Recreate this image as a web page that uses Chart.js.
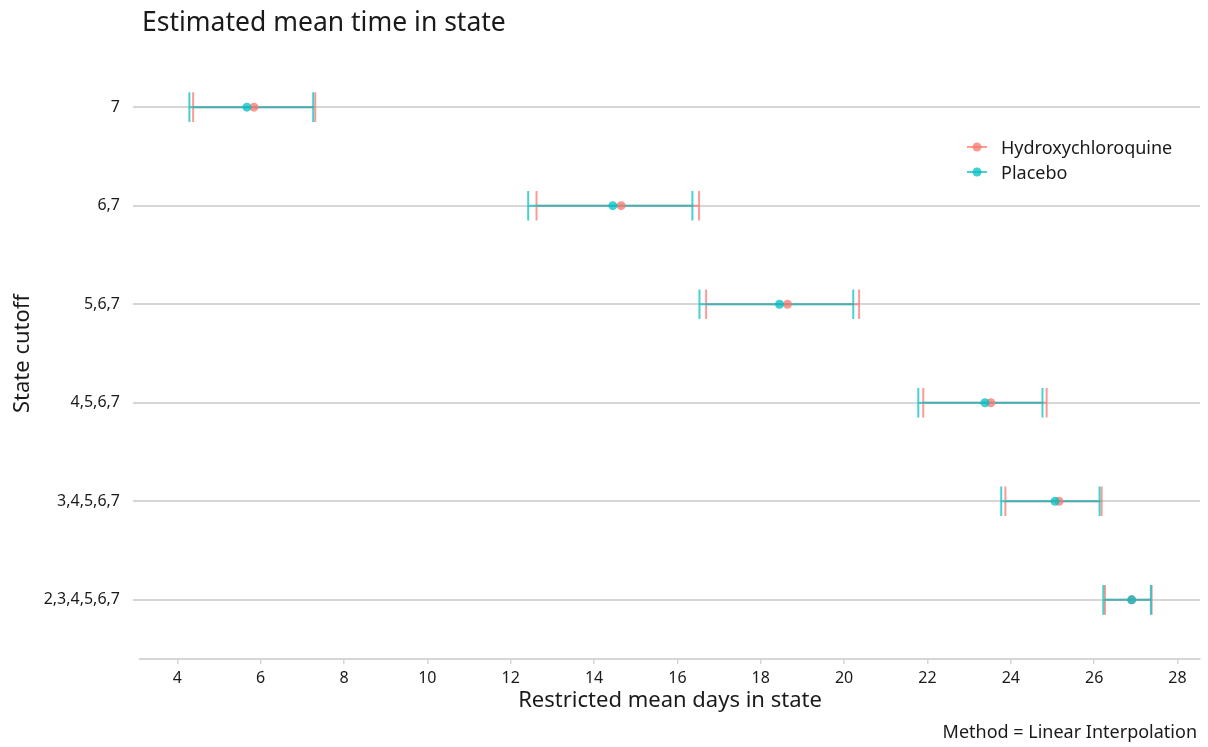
<!DOCTYPE html>
<html><head><meta charset="utf-8">
<script src="https://cdn.jsdelivr.net/npm/chart.js@4/dist/chart.umd.min.js"></script>
<style>html,body{margin:0;padding:0;background:#fff;}canvas{display:block;}</style>
</head><body>
<canvas id="c" width="1208" height="747"></canvas>
<script>
// ---- data (top row first) ----
const categories = ["7", "6,7", "5,6,7", "4,5,6,7", "3,4,5,6,7", "2,3,4,5,6,7"];
const seriesNames = ["Hydroxychloroquine", "Placebo"];
const hcqMean = [5.84, 14.65, 18.64, 23.52, 25.16, 26.90];
const hcqLow  = [4.38, 12.62, 16.69, 21.90, 23.87, 26.26];
const hcqHigh = [7.31, 16.52, 20.36, 24.86, 26.18, 27.38];
const plaMean = [5.67, 14.45, 18.45, 23.38, 25.06, 26.90];
const plaLow  = [4.29, 12.42, 16.53, 21.78, 23.77, 26.22];
const plaHigh = [7.26, 16.36, 20.22, 24.76, 26.13, 27.36];
const xTicks = [4, 6, 8, 10, 12, 14, 16, 18, 20, 22, 24, 26, 28];

const FONT = "'Noto Sans', 'Open Sans', sans-serif";
Chart.defaults.font.family = FONT;
Chart.defaults.color = '#1a1a1a';

const n = categories.length;
const rowPos = i => n - i;            // top row highest
const yTickVals = categories.map((c, i) => rowPos(i));
const labelFor = v => categories[n - v];

const colors = [
  {line: 'rgba(248,118,109,0.72)', fill: 'rgba(248,118,109,0.75)'},
  {line: 'rgba(0,191,196,0.72)', fill: 'rgba(0,191,196,0.75)'}
];
const groups = [
  {mean: hcqMean, lo: hcqLow, hi: hcqHigh},
  {mean: plaMean, lo: plaLow, hi: plaHigh}
];

const errorBarPlugin = {
  id: 'errorbars',
  beforeDatasetsDraw(chart) {
    const {ctx, scales: {x, y}} = chart;
    const capHalf = 0.15;
    ctx.save();
    ctx.lineWidth = 2;
    ctx.lineCap = 'butt';
    groups.forEach((g, gi) => {
      ctx.strokeStyle = colors[gi].line;
      g.lo.forEach((lo, i) => {
        const p = rowPos(i);
        const yc = y.getPixelForValue(p), yt = y.getPixelForValue(p + capHalf), yb = y.getPixelForValue(p - capHalf);
        const xl = x.getPixelForValue(lo), xh = x.getPixelForValue(g.hi[i]);
        ctx.beginPath();
        ctx.moveTo(xl, yt); ctx.lineTo(xl, yb);
        ctx.moveTo(xl, yc); ctx.lineTo(xh, yc);
        ctx.moveTo(xh, yt); ctx.lineTo(xh, yb);
        ctx.stroke();
      });
    });
    ctx.restore();
  }
};

const textPlugin = {
  id: 'texts',
  afterDraw(chart) {
    const {ctx, chartArea} = chart;
    ctx.save();
    ctx.fillStyle = '#1a1a1a';
    ctx.textBaseline = 'alphabetic';
    ctx.font = `26.5px ${FONT}`;
    ctx.textAlign = 'left';
    ctx.fillText('Estimated mean time in state', chartArea.left + 2, 31);
    ctx.font = `18px ${FONT}`;
    ctx.textAlign = 'right';
    ctx.fillText('Method = Linear Interpolation', chartArea.right - 3, 738);
    // legend
    const lx = 967, ly = [147, 172];
    seriesNames.forEach((name, i) => {
      ctx.strokeStyle = colors[i].line;
      ctx.lineWidth = 2;
      ctx.beginPath(); ctx.moveTo(lx, ly[i]); ctx.lineTo(lx + 20, ly[i]); ctx.stroke();
      ctx.fillStyle = colors[i].fill;
      ctx.beginPath(); ctx.arc(lx + 10, ly[i], 4.5, 0, Math.PI * 2); ctx.fill();
      ctx.fillStyle = '#1a1a1a';
      ctx.font = `18px ${FONT}`;
      ctx.textAlign = 'left';
      ctx.fillText(name, 1001, ly[i] + 6.5);
    });
    ctx.restore();
  }
};

new Chart(document.getElementById('c'), {
  type: 'scatter',
  data: {
    datasets: [
      {label: seriesNames[0], order: 1,
       data: categories.map((c, i) => ({x: hcqMean[i], y: rowPos(i)})),
       backgroundColor: colors[0].fill, borderWidth: 0, pointRadius: 4.5},
      {label: seriesNames[1], order: 0,
       data: categories.map((c, i) => ({x: plaMean[i], y: rowPos(i)})),
       backgroundColor: colors[1].fill, borderWidth: 0, pointRadius: 4.5}
    ]
  },
  options: {
    responsive: false,
    animation: false,
    layout: {padding: {top: 48, right: 8, left: 0, bottom: 0}},
    plugins: {legend: {display: false}, tooltip: {enabled: false}, title: {display: false}},
    scales: {
      x: {
        type: 'linear', min: 3.105, max: 28.54,
        afterBuildTicks: s => { s.ticks = xTicks.map(v => ({value: v})); },
        afterFit: s => { s.height = 88; },
        grid: {drawOnChartArea: false, drawTicks: true, tickLength: 5, color: '#d6d6d6', lineWidth: 1.5},
        border: {display: true, color: '#d6d6d6', width: 2},
        ticks: {font: {size: 16}, color: '#1a1a1a', padding: 5, maxRotation: 0},
        title: {display: true, text: 'Restricted mean days in state', font: {size: 22}, color: '#1a1a1a', padding: {top: 0, bottom: 33}}
      },
      y: {
        type: 'linear', min: 0.4, max: n + 0.6,
        afterBuildTicks: s => { s.ticks = yTickVals.map(v => ({value: v})); },
        afterFit: s => { s.width = 140; },
        grid: {drawOnChartArea: true, drawTicks: true, tickLength: 7, color: '#d6d6d6', lineWidth: 2},
        border: {display: false},
        ticks: {font: {size: 16}, color: '#1a1a1a', padding: 13, callback: v => labelFor(v)},
        title: {display: true, text: 'State cutoff', font: {size: 22}, color: '#1a1a1a', padding: {top: 10, bottom: 0}}
      }
    }
  },
  plugins: [errorBarPlugin, textPlugin]
});
</script>
</body></html>
